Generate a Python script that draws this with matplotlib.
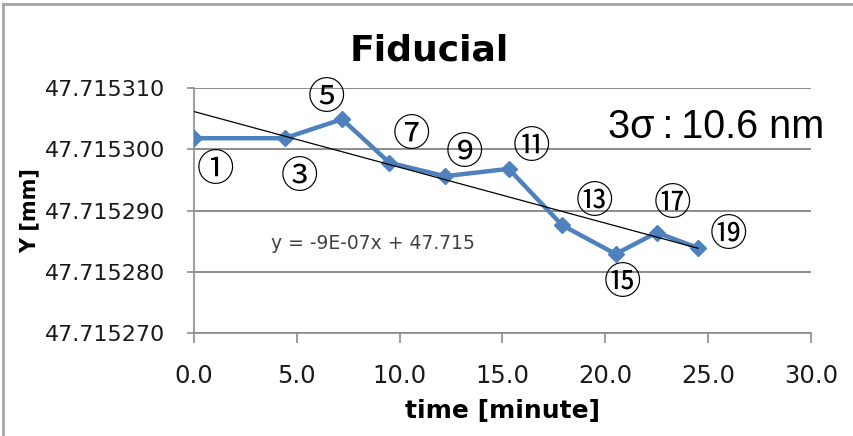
import numpy as np
import matplotlib
matplotlib.use("Agg")
import matplotlib.pyplot as plt
from matplotlib.lines import Line2D
import matplotlib.ticker as ticker

# %% data
time_min = [0.0, 4.4, 7.2, 9.5, 12.2, 15.3, 17.9, 20.5, 22.5, 24.5]
y_mm = [47.7153018, 47.7153018, 47.7153049, 47.7152978, 47.7152956,
        47.7152968, 47.7152876, 47.7152829, 47.7152864, 47.7152839]
point_labels = ["①", "③", "⑤", "⑦", "⑨", "⑪", "⑬", "⑮", "⑰", "⑲"]
# label offsets in pixels (dx right, dy up)
label_offsets = [(21, -32), (15, -39), (-16, 21), (22, 27), (20, 23),
                 (23, 21), (32, 23), (7, -30), (16, 28), (31, 12)]
x_ticks = [0, 5, 10, 15, 20, 25, 30]
y_ticks = [47.71527, 47.71528, 47.71529, 47.71530, 47.71531]
title = "Fiducial"
sigma_text = "3σ\u2009:\u200910.6 nm"

# %% figure
fig = plt.figure(figsize=(8.54, 4.36), dpi=100)
ax = fig.add_axes([0.2272, 0.2362, 0.9496 - 0.2272, 0.7982 - 0.2362])

blue = "#4F81BD"
grid_c = "#8C8C8C"

ax.plot(time_min, y_mm, color=blue, lw=3.2, marker="D", markersize=8.5,
        solid_joinstyle="miter", zorder=3)

# linear trendline (Excel style)
slope, icpt = np.polyfit(time_min, y_mm, 1)
tx = np.array([0.0, time_min[-1]])
ax.plot(tx, slope * tx + icpt, color="black", lw=0.9, zorder=4)

ax.set_xlim(0, 30)
ax.set_ylim(y_ticks[0], y_ticks[-1])
ax.set_xticks(x_ticks)
ax.set_yticks(y_ticks)
ax.xaxis.set_major_formatter(ticker.FuncFormatter(lambda v, _: f"{v:.1f}"))
ax.yaxis.set_major_formatter(ticker.FuncFormatter(lambda v, _: f"{v:.6f}"))
ax.tick_params(axis="both", colors=grid_c, labelcolor="#1a1a1a", width=1.2)
ax.tick_params(axis="x", direction="out", length=7, pad=15, labelsize=17.5)
ax.tick_params(axis="y", direction="out", length=5, pad=16, labelsize=16)
ax.grid(axis="y", color=grid_c, lw=1.4)
ax.set_axisbelow(True)
for s in ["top", "right"]:
    ax.spines[s].set_visible(False)
for s in ["left", "bottom"]:
    ax.spines[s].set_color(grid_c)
    ax.spines[s].set_linewidth(1.2)

ax.set_xlabel("time [minute]", fontsize=18, fontweight="bold", labelpad=8)
ax.set_ylabel("Y [mm]", fontsize=15, fontweight="bold")
ax.yaxis.set_label_coords(-0.25, 0.5)
fig.text(0.503, 0.885, title, fontsize=26, fontweight="bold", ha="center", va="center")

for xv, yv, lab, (dx, dy) in zip(time_min, y_mm, point_labels, label_offsets):
    ax.annotate(lab, (xv, yv), xytext=(dx * 0.72, dy * 0.72), textcoords="offset points",
                ha="center", va="center", fontsize=27,
                family=["Noto Sans CJK JP", "DejaVu Sans"], zorder=5)

ax.text(0.29, 0.365, f"y = {slope:.0E}x + {icpt:.3f}",
        transform=ax.transAxes, fontsize=13.5, color="#404040", ha="center", va="center")

fig.text(0.838, 0.708, sigma_text, fontsize=28.5, family="Liberation Sans",
         ha="center", va="center")

# outer chart frame (top/left visible)
fig.add_artist(Line2D([0.003, 0.003], [0.0, 0.991], transform=fig.transFigure,
                      color="#A6A6A6", lw=2))
fig.add_artist(Line2D([0.003, 1.0], [0.991, 0.991], transform=fig.transFigure,
                      color="#A6A6A6", lw=2))

fig.savefig("out.png", dpi=100)
